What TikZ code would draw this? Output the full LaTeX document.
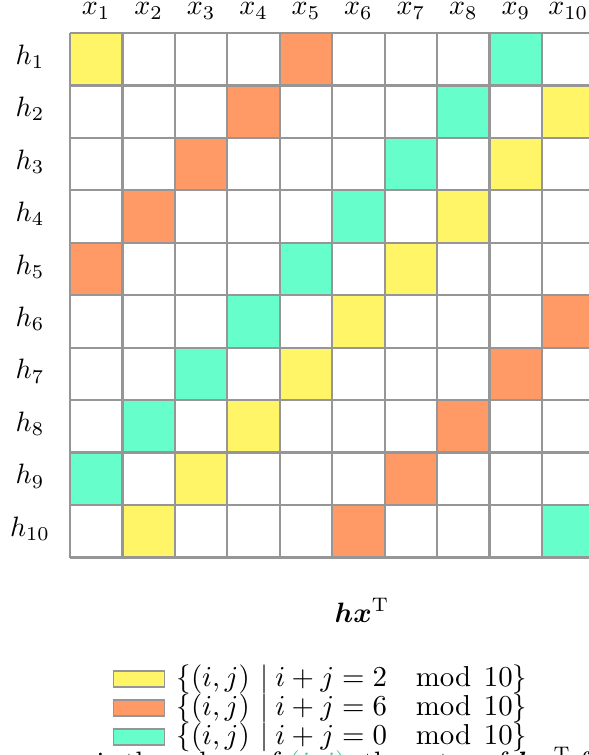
\documentclass[tikz,border=0pt]{standalone}
\usepackage{amsmath,bm}
\definecolor{cellline}{RGB}{150,150,150}
\definecolor{cyel}{RGB}{255,245,102}
\definecolor{cora}{RGB}{255,153,102}
\definecolor{cteal}{RGB}{102,255,204}
\definecolor{tealtext}{RGB}{60,200,160}
\newcommand{\residueset}[1]{$\left\{(i,j)\mskip 7mu\middle|\mskip 4mu i+j=#1\mskip 18mu\mathrm{mod}\mskip 8mu 10\right\}$}
\begin{document}
\begin{tikzpicture}[x=0.357pt,y=-0.357pt,
  cellfill/.style={inner sep=0pt,minimum size=18.75pt,draw=none},
  gridline/.style={draw=cellline,line width=0.8pt},
  swatch/.style={draw=cellline,line width=0.6pt,minimum width=18.2pt,minimum height=5.6pt,inner sep=0pt},
  lbl/.style={inner sep=0pt,anchor=base},
  legtext/.style={anchor=west,inner sep=0pt,scale=1.03}]
\useasboundingbox (0,0) rectangle (589,755);
\def\cs{52.45}
% cell fills: colour by i+j mod 10
\foreach \i in {1,...,10}{
  \foreach \j in {1,...,10}{
    \pgfmathtruncatemacro{\r}{mod(\i+\j,10)}
    \ifnum\r=2 \def\cc{cyel}\else\ifnum\r=6 \def\cc{cora}\else\ifnum\r=0 \def\cc{cteal}\else\def\cc{white}\fi\fi\fi
    \node[cellfill,fill=\cc] (c-\i-\j) at ({70+\cs*(\j-0.5)},{33+\cs*(\i-0.5)}) {};
  }
}
% grid lines
\foreach \k in {0,...,10}{
  \draw[gridline] ({70+\cs*\k},33) -- ({70+\cs*\k},{33+\cs*10});
  \draw[gridline] (70,{33+\cs*\k}) -- ({70+\cs*10},{33+\cs*\k});
}
% column and row labels
\foreach \j in {1,...,10}{
  \node[lbl] (x\j) at ({70+\cs*(\j-0.5)},15) {$x_{\j}$};
}
\foreach \i in {1,...,10}{
  \node[lbl] (h\i) at (30,{33+\cs*(\i-0.5)+5}) {$h_{\i}$};
}
% product label
\node[lbl] (prod) at (362,622) {$\bm{h}\bm{x}^{\mathrm{T}}$};
% legend
\node[swatch,fill=cyel]  (s1) at (139,679) {};
\node[swatch,fill=cora]  (s2) at (139,708) {};
\node[swatch,fill=cteal] (s3) at (139,737) {};
\node[legtext] (l1) at (176,679) {\residueset{2}};
\node[legtext] (l2) at (176,708) {\residueset{6}};
\node[legtext] (l3) at (176,737) {\residueset{0}};
% caption line running below the page edge
\node[lbl,anchor=base west] (cap) at (96,771) {is the colour of {\color{tealtext}$(i,j)$}, the entry of $\bm{h}\bm{x}^{\mathrm{T}}$ for};
\end{tikzpicture}
\end{document}
